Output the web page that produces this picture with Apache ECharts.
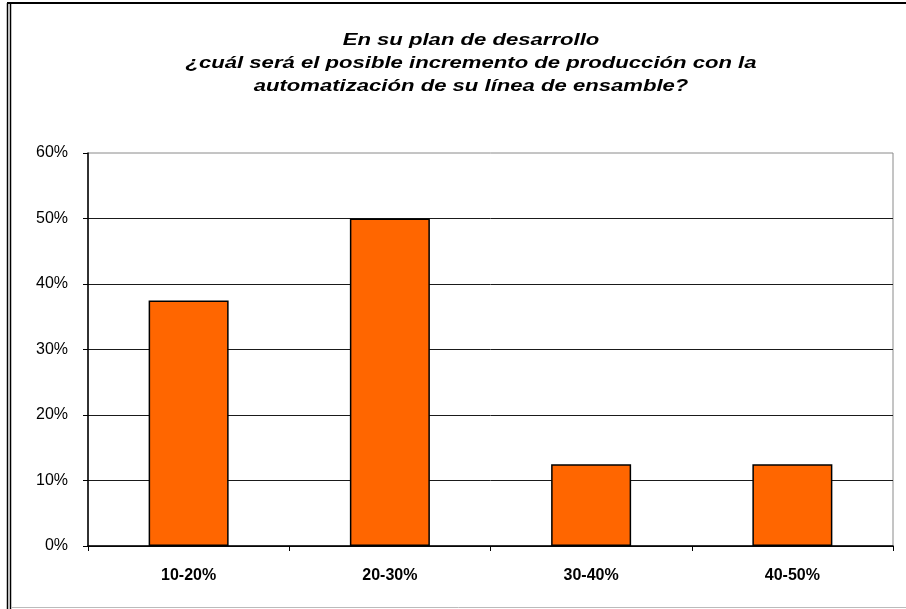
<!DOCTYPE html>
<html>
<head>
<meta charset="utf-8">
<script src="https://cdn.jsdelivr.net/npm/echarts@6/dist/echarts.min.js"></script>
<style>
  html, body { margin: 0; padding: 0; background: #fff; }
  #chart { width: 906px; height: 609px; }
</style>
</head>
<body>
<div id="chart"></div>
<script>
// Rangos de incremento de producción y porcentaje de respuestas
const categories = ['10-20%', '20-30%', '30-40%', '40-50%'];
const values = [37.5, 50, 12.5, 12.5];
const titleLines = [
  'En su plan de desarrollo',
  '¿cuál será el posible incremento de producción con la',
  'automatización de su línea de ensamble?'
];

const chart = echarts.init(document.getElementById('chart'), null, { renderer: 'canvas' });
const font = '"Liberation Sans", Arial, sans-serif';

// Título en tres líneas, ensanchado horizontalmente
const titleGraphics = titleLines.map((line, i) => ({
  type: 'text',
  x: 471,
  y: 40 + i * 23,
  scaleX: 1.3,
  style: {
    text: line,
    textAlign: 'center',
    textVerticalAlign: 'middle',
    font: 'italic bold 17px ' + font,
    fill: '#000'
  }
}));

chart.setOption({
  backgroundColor: '#ffffff',
  animation: false,
  grid: { left: 88, right: 13, top: 153, bottom: 63, show: true, borderColor: '#8a8a8a', borderWidth: 1, backgroundColor: '#fff' },
  xAxis: {
    type: 'category',
    data: categories,
    axisLine: { lineStyle: { color: '#000', width: 1.5 } },
    axisTick: { show: true, length: 5, alignWithLabel: false, lineStyle: { color: '#000' } },
    axisLabel: { margin: 22, fontFamily: font, fontSize: 16, fontWeight: 'bold', color: '#000' }
  },
  yAxis: {
    type: 'value',
    min: 0,
    max: 60,
    interval: 10,
    axisLine: { show: true, lineStyle: { color: '#000', width: 1.5 } },
    axisTick: { show: true, length: 5, lineStyle: { color: '#000' } },
    axisLabel: { margin: 20, fontFamily: font, fontSize: 16, color: '#000', formatter: '{value}%' },
    splitLine: { show: true, showMaxLine: false, lineStyle: { color: '#1a1a1a', width: 1 } }
  },
  series: [{
    type: 'bar',
    data: values,
    barWidth: 80,
    itemStyle: { color: '#ff6600', borderColor: '#000', borderWidth: 1.5 }
  }],
  graphic: titleGraphics.concat([
    { type: 'line', shape: { x1: 7.5, y1: 3, x2: 7.5, y2: 609 }, style: { stroke: '#000', lineWidth: 1.5 } },
    { type: 'line', shape: { x1: 10.5, y1: 3, x2: 10.5, y2: 609 }, style: { stroke: '#000', lineWidth: 1.5 } },
    { type: 'line', shape: { x1: 7, y1: 3, x2: 906, y2: 3 }, style: { stroke: '#000', lineWidth: 2 } },
    { type: 'line', shape: { x1: 11, y1: 607.5, x2: 906, y2: 607.5 }, style: { stroke: '#bbbbbb', lineWidth: 1 } }
  ])
});
</script>
</body>
</html>
